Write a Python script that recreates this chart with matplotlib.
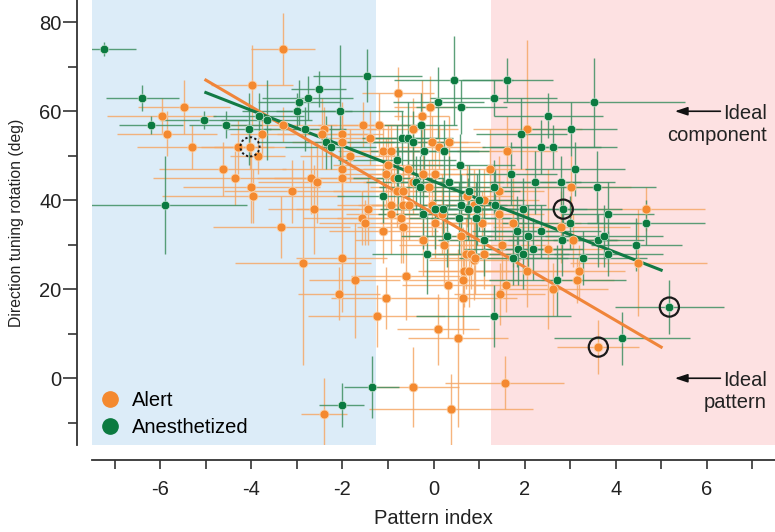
import numpy as np
import matplotlib
matplotlib.use('Agg')
import matplotlib.pyplot as plt
from matplotlib.lines import Line2D

plt.rcParams['font.family'] = ['Liberation Sans', 'DejaVu Sans']
plt.rcParams['axes.unicode_minus'] = False

"""DATA read off the figure"""
# Alert animals (orange): pattern index, tuning rotation, errors
alert_x = [-3.31, -3.99, -5.48, -5.97, -5.85, -5.31, -4.30, -4.03, -3.86, -3.77,
           -3.31, -4.63, -4.36, -4.00, -3.97, -3.11, -2.63, -2.68, -2.55, -3.34,
           -2.41, -2.44, -2.02, -2.00, -1.84, -2.02, -2.00, -1.54, -1.40, -1.20,
           -1.10, -1.00, -1.05, -0.78, -1.43, -1.56, -1.51, -1.10, -0.93, -0.93,
           -0.80, -2.87, -2.02, -1.73, -2.08, -1.05, -1.25, -2.41, -0.07, -0.26,
           -0.46, -0.04, 0.13, 0.33, -0.93, -0.55, -0.22, 0.04, -0.86, -0.44,
           -0.09, -0.66, -0.66, -0.53, -0.72, -0.68, -0.04, 0.18, 0.03, 0.24,
           -0.22, -0.61, 0.31, 0.66, 0.77, 0.64, 0.64, 0.90, 1.60, 1.45,
           2.06, 2.63, 3.16, 3.20, 4.50, 0.09, 0.53, 3.62, -0.44, 1.56,
           0.39, 2.06, 1.62, 1.23, 3.03, 1.43, 1.12, 1.75, 1.43, 4.67,
           2.81, 3.07, 2.52, 1.51, 0.61, 0.72, 0.83, 1.10, 0.92, 1.07,
           0.74, 0.90]
alert_y = [74, 66, 61, 59, 55, 52, 52, 52, 50, 55,
           57, 47, 45, 43, 41, 42, 38, 45, 44, 34,
           56, 55, 55, 53, 50, 47, 45, 57, 54, 57,
           51, 48, 46, 64, 38, 36, 35, 33, 39, 37,
           42, 26, 27, 22, 19, 18, 14, -8, 61, 59,
           56, 53, 52, 53, 51, 47, 46, 46, 45, 44,
           43, 42, 39, 39, 36, 34, 39, 37, 35, 30,
           31, 23, 21, 24, 24, 22, 18, 26.6, 21, 19,
           24, 20, 22, 24, 26, 11, 9, 7, -2, -1,
           -7, 56, 51, 47, 43, 42, 40, 35, 37, 38,
           34, 31, 29, 30, 32, 28, 28, 28, 27, 35,
           41, 39]
alert_xerr = [0.7, 0.9, 1.0, 1.2, 1.1, 1.2, 0.8, 0.8, 0.6, 0.7,
              1.2, 1.4, 1.8, 1.5, 2.0, 1.5, 1.0, 1.2, 1.3, 1.5,
              1.2, 1.0, 0.9, 1.1, 1.1, 1.3, 1.5, 1.0, 1.0, 0.8,
              1.0, 1.2, 1.0, 0.8, 1.6, 1.3, 1.0, 1.2, 1.2, 1.0,
              1.4, 1.5, 1.0, 1.0, 0.9, 1.2, 1.5, 0.5, 0.8, 0.6,
              1.0, 0.8, 1.0, 0.7, 0.8, 1.0, 1.2, 0.8, 1.0, 1.1,
              1.3, 0.9, 1.0, 1.0, 1.4, 1.0, 1.3, 1.0, 1.2, 1.0,
              1.5, 1.2, 1.0, 1.0, 1.0, 1.3, 1.2, 1.0, 0.9, 1.0,
              1.2, 1.2, 0.8, 1.0, 1.5, 0.9, 1.1, 0.9, 1.0, 1.3,
              1.8, 1.2, 1.1, 0.8, 1.3, 1.0, 1.2, 1.5, 1.0, 1.3,
              1.5, 1.0, 1.2, 1.0, 1.3, 1.0, 1.0, 1.0, 1.0, 1.0,
              1.0, 1.0]
alert_yerr = [8, 9, 6, 4, 5, 5, 6, 5, 4, 5,
              4, 6, 6, 8, 6, 7, 10, 8, 9, 7,
              5, 8, 6, 9, 6, 8, 12, 5, 6, 7,
              6, 9, 8, 6, 8, 6, 5, 7, 8, 9,
              8, 23, 12, 13, 6, 7, 7, 8, 7, 8,
              7, 6, 5, 6, 6, 8, 5, 7, 6, 7,
              6, 6, 8, 8, 10, 8, 7, 9, 8, 9,
              8, 10, 12, 8, 8, 12, 7, 9, 6, 7,
              8, 6, 5, 6, 12, 8, 20, 6, 9, 6,
              8, 20, 8, 9, 7, 8, 7, 10, 9, 5,
              8, 6, 18, 8, 9, 8, 8, 8, 8, 7,
              7, 8]

# Anesthetized animals (green)
anest_x = [-7.24, -6.40, -6.20, -5.90, -5.05, -4.56, -4.06, -3.84, -3.66, -3.00,
           -2.96, -2.76, -2.52, -2.83, -2.35, -2.26, -2.06, -1.45, -1.12, -0.80,
           -0.77, 0.10, -0.28, -0.70, -0.57, -0.44, -0.20, 0.22, -0.39, -0.30,
           0.35, -2.02, -1.36, -0.22, 0.03, 0.29, -0.15, 0.44, 1.62, 0.61,
           1.32, 3.53, 2.52, 3.03, 1.93, 2.37, 2.63, 0.59, 1.71, 3.11,
           2.24, 2.79, 3.58, 1.32, 0.79, 0.99, 1.36, 1.97, 2.85, 3.84,
           4.67, 3.00, 1.84, 2.37, 2.08, 2.83, 3.62, 3.75, 4.45, 2.19,
           1.86, 1.97, 1.75, 3.29, 3.84, 1.10, 0.57, 0.75, 0.96, 0.20,
           0.61, 0.94, 2.72, 1.32, 5.18, 4.14]
anest_y = [74, 63, 57, 39, 58, 57, 56, 59, 58, 60,
           62, 63, 65, 56, 53, 52, 60, 68, 41, 49,
           45, 62, 57, 54, 54, 53, 51, 51, 44, 43,
           44, -6, -2, 37, 38, 32, 28, 67, 67, 61,
           63, 62, 59, 56, 55, 52, 52, 48, 46, 47,
           44, 44, 43, 43, 42, 40, 39, 38, 38, 37,
           35, 35, 33, 33, 32, 31, 31, 32, 30, 29,
           29, 28, 27, 27, 28, 31, 36, 38, 38, 38,
           39, 36, 22, 14, 16, 9]
anest_xerr = [0.7, 0.8, 0.7, 1.8, 0.95, 0.8, 0.5, 1.0, 1.0, 1.2,
              0.9, 1.0, 0.6, 0.9, 1.5, 1.0, 1.4, 1.2, 1.0, 1.3,
              1.0, 1.0, 0.8, 0.8, 1.0, 0.9, 1.2, 1.0, 1.1, 0.9,
              1.2, 0.5, 0.6, 1.0, 1.2, 1.0, 1.2, 1.3, 1.0, 1.0,
              1.4, 2.0, 1.2, 1.0, 1.0, 1.3, 1.4, 1.2, 1.0, 1.1,
              1.0, 1.2, 1.3, 1.0, 1.1, 1.0, 1.1, 1.4, 1.3, 1.0,
              1.3, 1.5, 1.0, 1.3, 1.0, 1.2, 1.0, 1.3, 1.0, 1.1,
              1.2, 1.0, 1.2, 1.4, 1.2, 1.0, 1.1, 1.0, 0.9, 1.1,
              1.0, 1.0, 1.5, 1.7, 1.2, 1.5]
anest_yerr = [1.5, 3, 2, 11, 2, 3, 8, 5, 9, 4,
              5, 5, 4, 5, 6, 5, 15, 6, 6, 8,
              7, 8, 7, 6, 8, 7, 6, 7, 6, 7,
              6, 5, 7, 8, 9, 7, 9, 10, 5, 6,
              4, 10, 5, 6, 8, 6, 5, 7, 7, 6,
              7, 6, 8, 6, 6, 7, 8, 7, 6, 7,
              5, 6, 8, 6, 7, 8, 6, 7, 6, 7,
              8, 8, 6, 6, 5, 8, 8, 7, 8, 7,
              7, 8, 8, 7, 6, 6]

# regression lines (end points)
fit_x = [-5, 5]
alert_fit = [67.0, 7.0]
anest_fit = [64.2, 24.3]

# circled example cells
circ_x = [2.85, 5.18, 3.62]
circ_y = [38, 16, 7]
circ_dot_x = [-4.03]
circ_dot_y = [52]

orange = '#f4892f'
green = '#0b7a40'
fs = 14.5

fig = plt.figure(figsize=(7.75, 5.32), dpi=100)
ax = fig.add_axes([92/775, 87/532, 683/775, 445/532])

ax.axvspan(-7.5, -1.27, color='#dcecf8', lw=0, zorder=0)
ax.axvspan(1.27, 7.5, color='#fde1e2', lw=0, zorder=0)

ax.errorbar(alert_x, alert_y, xerr=alert_xerr, yerr=alert_yerr, fmt='none',
            ecolor='#f5a868', elinewidth=1.0, alpha=0.85, zorder=2)
ax.errorbar(anest_x, anest_y, xerr=anest_xerr, yerr=anest_yerr, fmt='none',
            ecolor='#3f8f62', elinewidth=1.0, alpha=0.85, zorder=2)

ax.plot(fit_x, alert_fit, color='#f0853a', lw=2.2, zorder=3)
ax.plot(fit_x, anest_fit, color='#127a45', lw=2.2, zorder=3)

ax.plot(alert_x, alert_y, 'o', color=orange, ms=6.5, mec='#fbd3ad', mew=0.6, zorder=4)
ax.plot(anest_x, anest_y, 'o', color=green, ms=6.2, mec='#cfe6d6', mew=0.5, zorder=5)

ax.scatter(circ_x, circ_y, s=190, facecolors='none', edgecolors='#1a1a1a', lw=1.6, zorder=6)
ax.scatter(circ_dot_x, circ_dot_y, s=190, facecolors='none', edgecolors='#1a1a1a',
           lw=1.4, linestyle=(0, (1.2, 1.2)), zorder=6)

# ideal cell annotations
for yy, lab, ty in [(60, 'Ideal\ncomponent', 57.0), (0, 'Ideal\npattern', -3.0)]:
    ax.annotate('', xy=(5.3, yy), xytext=(6.3, yy),
                arrowprops=dict(arrowstyle='-|>,head_length=0.75,head_width=0.25',
                                color='#111111', lw=1.2, shrinkA=0, shrinkB=0))
    ax.text(7.32, ty, lab, ha='right', va='center', fontsize=fs,
            linespacing=1.25, color='#222222')

ax.set_xlim(-7.5, 7.5)
ax.set_ylim(-15, 85)
ax.set_xticks([-6, -4, -2, 0, 2, 4, 6])
ax.set_xticks(np.arange(-7, 8, 2), minor=True)
ax.set_yticks([0, 20, 40, 60, 80])
ax.set_yticks([-10, 10, 30, 50, 70], minor=True)

for spine in ('top', 'right'):
    ax.spines[spine].set_visible(False)
for spine in ('left', 'bottom'):
    ax.spines[spine].set_position(('outward', 10.8))
    ax.spines[spine].set_linewidth(1.3)
    ax.spines[spine].set_color('#333333')

ax.tick_params(axis='x', which='both', length=6.5, width=1.2, color='#333333',
               labelsize=fs, pad=8, labelcolor='#222222')
ax.tick_params(axis='y', which='major', length=10, width=1.2, color='#333333',
               labelsize=fs, pad=1, labelcolor='#222222')
ax.tick_params(axis='y', which='minor', length=6.5, width=1.2, color='#333333')

ax.set_xlabel('Pattern index', fontsize=fs, labelpad=7, color='#222222')
ax.set_ylabel('Direction tuning rotation (deg)', fontsize=11.3, labelpad=11,
              color='#222222')

handles = [Line2D([], [], marker='o', ls='none', color=orange, ms=11),
           Line2D([], [], marker='o', ls='none', color=green, ms=11)]
ax.legend(handles, ['Alert', 'Anesthetized'], loc='lower left', frameon=False,
          fontsize=fs, handlelength=1.0, handletextpad=0.6, labelspacing=0.4,
          borderaxespad=0.0, bbox_to_anchor=(0.0, 0.0))

fig.savefig('out.png', dpi=100)
